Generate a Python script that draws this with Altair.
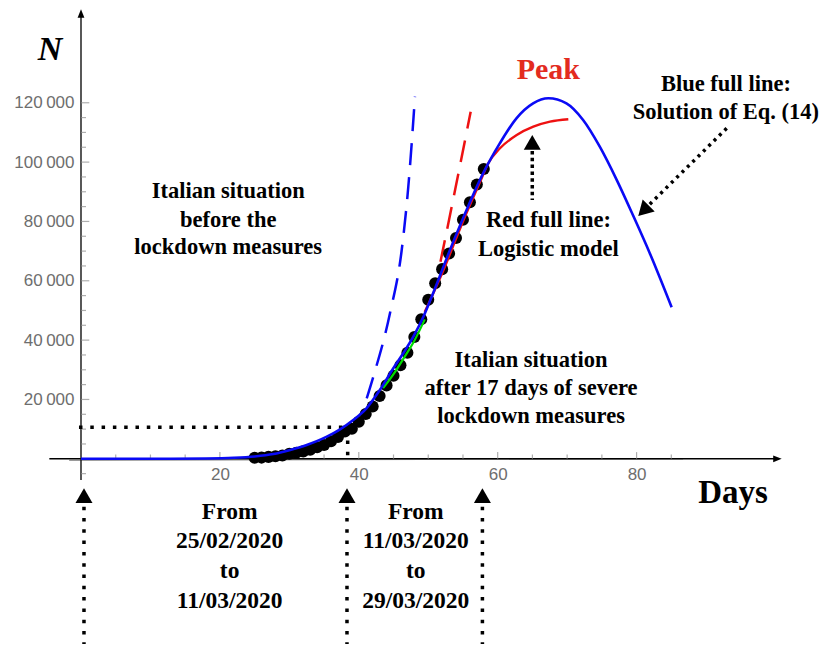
import altair as alt
import pandas as pd

# ---------------- data ----------------
obs_days = list(range(25, 59))
obs_cases = [322, 400, 650, 888, 1128, 1694, 2036, 2502, 3089, 3858, 4636, 5883, 7375, 9172,
             10149, 12462, 15113, 17660, 21157, 24747, 27980, 31506, 35713, 41035, 47021,
             53578, 59138, 63927, 69176, 74386, 80539, 86498, 92472, 97689]

blue_days = [0, 10, 18, 22, 25, 27.7, 30, 32.5, 35.4, 37.3, 39.2, 41.1, 43.1, 44.97, 46.4,
             47.85, 49.3, 50.5, 51.94, 52.9, 55.0, 57.9, 60.3, 62.7, 65.1, 67.3, 69.9, 72.3,
             74.7, 77.1, 79.5, 81.9, 85.05]
blue_vals = [0, 20, 120, 350, 800, 1620, 2900, 4650, 7450, 9940, 13080, 17020, 23420, 30500,
             35560, 41150, 47890, 54630, 63200, 69000, 81000, 96220, 106300, 114760, 119800,
             121500, 119800, 114200, 105200, 94200, 82000, 69300, 51060]

red_days = [49.5, 52.0, 55.0, 57.5, 58.65, 60.33, 62.74, 65.13, 67.53, 70.17]
red_vals = [49500, 62500, 80000, 93500, 99600, 104650, 109130, 111930, 113620, 114430]

green_days = [43.5, 45.0, 46.5, 48.0, 49.5]
green_vals = [23800, 28500, 34000, 39800, 47000]

blue_dash_days = [41.14, 42.09, 44.49, 46.18, 47.13, 48.09]
blue_dash_vals = [20390, 27670, 49040, 70370, 91710, 122040]

red_dash_days = [51.76, 53.9, 56.11]
red_dash_vals = [66400, 91000, 117000]

x_major_ticks = [20, 40, 60, 80]
x_minor_ticks = [5, 10, 15, 25, 30, 35, 45, 50, 55, 65, 70, 75, 85]
y_major_ticks = [20000, 40000, 60000, 80000, 100000, 120000]
y_minor_ticks = [-5000, 5000, 10000, 15000, 25000, 30000, 35000, 45000, 50000, 55000,
                 65000, 70000, 75000, 85000, 90000, 95000, 105000, 110000, 115000]

# period arrows (days) and annotation texts
period_arrow_days = [0.43, 38.3, 57.8]

word_texts = ["Italian situation", "before the", "lockdown measures",
              "Red full line:", "Logistic model",
              "Italian situation", "after 17 days of severe", "lockdown measures",
              "Blue full line:", "Solution of Eq. (14)"]
word_days = [21.2, 21.2, 21.2, 67.3, 67.3, 64.8, 64.8, 64.8, 92.87, 92.87]
word_vals = [87800, 78230, 68925, 77960, 68520, 31040, 21500, 12170, 124060, 114420]

date_texts = ["From", "25/02/2020", "to", "11/03/2020",
              "From", "11/03/2020", "to", "29/03/2020"]
date_days = [21.4] * 4 + [48.2] * 4
date_vals = [-20390, -30165, -40280, -50390] * 2

# ---------------- scales ----------------
xs = alt.Scale(domain=[-10.511, 106.41], nice=False, zero=False)
ys = alt.Scale(domain=[-62420, 151938], nice=False, zero=False)

BLUE = "#0a0af5"
RED = "#ee1111"
SERIF = "Liberation Serif"


def X(f="day"):
    return alt.X(f"{f}:Q", scale=xs, axis=None)


def Y(f="v"):
    return alt.Y(f"{f}:Q", scale=ys, axis=None)


def line_df(d, v):
    return pd.DataFrame({"day": d, "v": v})


# ---------------- axes (labels only) ----------------
x_axis = alt.Axis(orient="bottom", offset=-185.2, values=x_major_ticks, domain=False,
                  ticks=False, tickSize=0, grid=False, labelPadding=8,
                  labelFont="Liberation Sans", labelFontSize=17, labelColor="#6e6e6e",
                  title=None, labelFlush=False, labelOverlap=False)
y_axis = alt.Axis(orient="left", offset=-73, values=y_major_ticks, domain=False,
                  ticks=False, tickSize=0, grid=False, labelPadding=7,
                  labelFont="Liberation Sans", labelFontSize=17, labelColor="#6e6e6e",
                  title=None, labelFlush=False, labelOverlap=False,
                  labelExpr="floor(datum.value / 1000) + '\u2009' + '000'")

axis_carrier = alt.Chart(line_df(blue_days, blue_vals)).mark_line(opacity=0).encode(
    x=alt.X("day:Q", scale=xs, axis=x_axis),
    y=alt.Y("v:Q", scale=ys, axis=y_axis),
)

# ---------------- axis lines, ticks, arrowheads ----------------
axis_lines = pd.DataFrame({
    "day": [-4.56, 0, -1.7], "day2": [100.5, 0, 86.7],
    "v": [0, -7145, 0], "v2": [0, 150000, 0], "kind": ["x", "y", "g"]})

x_axis_line = alt.Chart(axis_lines[axis_lines.kind == "x"]).mark_rule(
    color="black", strokeWidth=1.5).encode(x=X(), x2="day2:Q", y=Y(), y2="v2:Q")
y_axis_line = alt.Chart(axis_lines[axis_lines.kind == "y"]).mark_rule(
    color="#111111", strokeWidth=1.4).encode(x=X(), x2="day2:Q", y=Y(), y2="v2:Q")
gray_axis_line = alt.Chart(axis_lines[axis_lines.kind == "g"]).mark_rule(
    color="#9a9a9a", strokeWidth=1.3, yOffset=1.5).encode(x=X(), x2="day2:Q", y=Y(), y2="v2:Q")

tick_x_major = alt.Chart(pd.DataFrame({"day": x_major_ticks, "v": [0] * len(x_major_ticks)})).mark_tick(
    orient="vertical", size=6.7, thickness=1.2, yOffset=-3.35, color="#8c8c8c"
).encode(x=X(), y=Y())
tick_x_minor = alt.Chart(pd.DataFrame({"day": x_minor_ticks, "v": [0] * len(x_minor_ticks)})).mark_tick(
    orient="vertical", size=4.3, thickness=1.2, yOffset=-2.15, color="#8c8c8c"
).encode(x=X(), y=Y())
tick_y_major = alt.Chart(pd.DataFrame({"day": [0] * len(y_major_ticks), "v": y_major_ticks})).mark_tick(
    orient="horizontal", size=8.3, thickness=1.2, xOffset=4.15, color="#8c8c8c"
).encode(x=X(), y=Y())
tick_y_minor = alt.Chart(pd.DataFrame({"day": [0] * len(y_minor_ticks), "v": y_minor_ticks})).mark_tick(
    orient="horizontal", size=5, thickness=1.2, xOffset=2.5, color="#8c8c8c"
).encode(x=X(), y=Y())

y_arrow = alt.Chart(pd.DataFrame({"day": [0], "v": [150085]})).mark_point(
    shape="M0,-1L0.8,1L-0.8,1Z", size=72, filled=True, color="black", opacity=1
).encode(x=X(), y=Y())
x_arrow = alt.Chart(pd.DataFrame({"day": [100.28], "v": [0]})).mark_point(
    shape="M1,0L-1,0.8L-1,-0.8Z", size=72, filled=True, color="black", opacity=1
).encode(x=X(), y=Y())

# ---------------- dotted annotation lines & arrowheads ----------------
dotted = pd.DataFrame({
    "day": [-0.29, 38.4] + period_arrow_days + [64.98, 92.97],
    "day2": [37.8, 38.4] + period_arrow_days + [64.98, 81.71],
    "v": [10600, 10000, -16145, -16145, -16145, 103740, 111390],
    "v2": [10600, 0, -62420, -62420, -62420, 87260, 85370],
    "grp": ["a", "a", "a", "a", "a", "b", "c"]})

dotted_a = alt.Chart(dotted[dotted.grp == "a"]).mark_rule(
    color="black", strokeWidth=3.5, strokeDash=[3.5, 7.8], strokeCap="butt"
).encode(x=X(), x2="day2:Q", y=Y(), y2="v2:Q")
dotted_b = alt.Chart(dotted[dotted.grp == "b"]).mark_rule(
    color="black", strokeWidth=3.5, strokeDash=[3.5, 3.3], strokeCap="butt"
).encode(x=X(), x2="day2:Q", y=Y(), y2="v2:Q")
dotted_c = alt.Chart(dotted[dotted.grp == "c"]).mark_rule(
    color="black", strokeWidth=3.5, strokeDash=[3, 4.5], strokeCap="butt"
).encode(x=X(), x2="day2:Q", y=Y(), y2="v2:Q")

heads_up = alt.Chart(pd.DataFrame({
    "day": period_arrow_days + [64.98],
    "v": [-12423, -12423, -12423, 106640]})).mark_point(
    shape="triangle-up", size=289, filled=True, color="black", opacity=1
).encode(x=X(), y=Y())
head_diag = alt.Chart(pd.DataFrame({"day": [80.99], "v": [83590]})).mark_point(
    shape="triangle-up", size=289, angle=225, filled=True, color="black", opacity=1
).encode(x=X(), y=Y())

# ---------------- model curves & data ----------------
blue_dash = alt.Chart(line_df(blue_dash_days, blue_dash_vals)).mark_line(
    color=BLUE, strokeWidth=2.5, strokeDash=[22, 12], interpolate="monotone"
).encode(x=X(), y=Y())
red_dash = alt.Chart(line_df(red_dash_days, red_dash_vals)).mark_line(
    color=RED, strokeWidth=2.5, strokeDash=[22, 12], interpolate="monotone"
).encode(x=X(), y=Y())
points = alt.Chart(line_df(obs_days, obs_cases)).mark_circle(
    size=145, color="black", opacity=1
).encode(x=X(), y=Y())
green_line = alt.Chart(line_df(green_days, green_vals)).mark_line(
    color="#00dd00", strokeWidth=2.2, interpolate="monotone"
).encode(x=X(), y=Y())
red_line = alt.Chart(line_df(red_days, red_vals)).mark_line(
    color=RED, strokeWidth=2.4, interpolate="monotone"
).encode(x=X(), y=Y())
blue_line = alt.Chart(line_df(blue_days, blue_vals)).mark_line(
    color=BLUE, strokeWidth=2.6, interpolate="monotone"
).encode(x=X(), y=Y())

# ---------------- texts ----------------
words = alt.Chart(pd.DataFrame({"t": word_texts, "day": word_days, "v": word_vals})).mark_text(
    font=SERIF, fontWeight="bold", fontSize=22.5, color="black", align="center", baseline="alphabetic"
).encode(x=X(), y=Y(), text="t:N")
dates = alt.Chart(pd.DataFrame({"t": date_texts, "day": date_days, "v": date_vals})).mark_text(
    font=SERIF, fontWeight="bold", fontSize=23.5, color="black", align="center", baseline="alphabetic"
).encode(x=X(), y=Y(), text="t:N")
peak = alt.Chart(pd.DataFrame({"t": ["Peak"], "day": [67.3], "v": [128000]})).mark_text(
    font=SERIF, fontWeight="bold", fontSize=30, color="#e32b1f", align="center", baseline="alphabetic"
).encode(x=X(), y=Y(), text="t:N")
n_label = alt.Chart(pd.DataFrame({"t": ["N"], "day": [-4.46], "v": [134430]})).mark_text(
    font=SERIF, fontWeight="bold", fontStyle="italic", fontSize=34, color="black",
    align="center", baseline="alphabetic"
).encode(x=X(), y=Y(), text="t:N")
days_label = alt.Chart(pd.DataFrame({"t": ["Days"], "day": [93.9], "v": [-15000]})).mark_text(
    font=SERIF, fontWeight="bold", fontSize=33, color="black", align="center", baseline="alphabetic"
).encode(x=X(), y=Y(), text="t:N")

chart = alt.layer(
    axis_carrier,
    gray_axis_line, x_axis_line, y_axis_line,
    tick_x_major, tick_x_minor, tick_y_major, tick_y_minor,
    y_arrow, x_arrow,
    dotted_a, dotted_b, dotted_c, heads_up, head_diag,
    blue_dash, red_dash, points, green_line, red_line, blue_line,
    words, dates, peak, n_label, days_label,
).resolve_axis(
    x="independent", y="independent"
).properties(
    width=812, height=636,
    autosize=alt.AutoSizeParams(type="none"),
    padding=0,
    background="white",
).configure_view(stroke=None)

chart.save("out.html", embed_options={"renderer": "svg", "actions": False})
